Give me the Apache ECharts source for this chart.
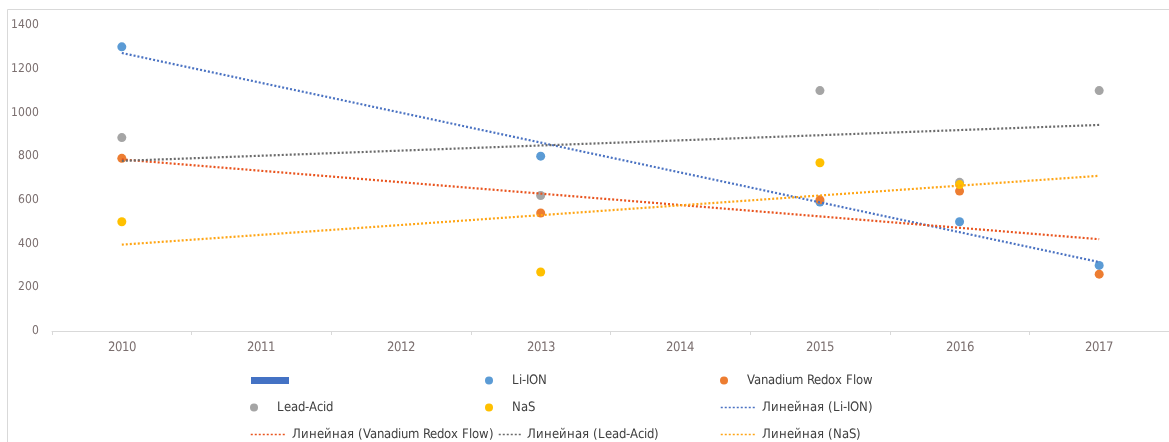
<!DOCTYPE html>
<html>
<head>
<meta charset="utf-8">
<title>Storage cost by technology</title>
<script src="https://cdn.jsdelivr.net/npm/echarts@6/dist/echarts.min.js"></script>
<style>
  @font-face {
    font-family: 'NarrowUI';
    src: local('Liberation Sans Narrow'), local('LiberationSansNarrow'),
         local('DejaVu Sans Condensed'), local('DejaVuSansCondensed'),
         local('Roboto Condensed'), local('RobotoCondensed-Regular');
  }
  html, body { margin: 0; padding: 0; background: #ffffff; }
  #chart { width: 1169px; height: 442px; }
</style>
</head>
<body>
<div id="chart"></div>
<script>
// Category axis: years
const years = ['2010', '2011', '2012', '2013', '2014', '2015', '2016', '2017'];

// Observed values per technology (null = no observation that year)
const liIon    = [1300, null, null, 800, null, 590, 500, 300];
const vanadium = [790,  null, null, 540, null, 600, 640, 260];
const leadAcid = [885,  null, null, 620, null, 1100, 680, 1100];
const nas      = [500,  null, null, 270, null, 770, 670, null];

// Value axis range
const yMin = 0;
const yMax = 1400;
const yStep = 200;

// Series names
const nameBlank = '\u200b';
const nameLi = 'Li-ION';
const nameV = 'Vanadium Redox Flow';
const nameLA = 'Lead-Acid';
const nameNaS = 'NaS';
const trendLi = 'Линейная (Li-ION)';
const trendV = 'Линейная (Vanadium Redox Flow)';
const trendLA = 'Линейная (Lead-Acid)';
const trendNaS = 'Линейная (NaS)';

// Least-squares linear trend over category positions 1..n
function linearTrend(values) {
  const pts = [];
  values.forEach((v, i) => { if (v !== null) pts.push([i + 1, v]); });
  const n = pts.length;
  const mx = pts.reduce((s, p) => s + p[0], 0) / n;
  const my = pts.reduce((s, p) => s + p[1], 0) / n;
  let sxy = 0, sxx = 0;
  pts.forEach(p => { sxy += (p[0] - mx) * (p[1] - my); sxx += (p[0] - mx) * (p[0] - mx); });
  const slope = sxy / sxx;
  const icpt = my - slope * mx;
  return values.map((_, i) => +(icpt + slope * (i + 1)).toFixed(2));
}

const FONT = "NarrowUI, 'Liberation Sans Narrow', 'DejaVu Sans Condensed', 'Roboto Condensed', 'Liberation Sans', sans-serif";

const colLi = '#5B9BD5', colV = '#ED7D31', colLA = '#A5A5A5', colNaS = '#FFC000';
const colTrLi = '#4A72C2', colTrV = '#E9541E', colTrLA = '#6A6A6A', colTrNaS = '#FFA514';

function scatter(name, data, color) {
  return {
    name: name, type: 'scatter', data: data, symbol: 'circle', symbolSize: 9,
    itemStyle: { color: color, opacity: 1 }, z: 2
  };
}
function trend(name, src, color) {
  return {
    name: name, type: 'line', data: linearTrend(src), symbol: 'none', showSymbol: false,
    lineStyle: { color: color, width: 2.2, type: [2, 2], cap: 'butt' },
    itemStyle: { color: color }, z: 3, silent: true
  };
}

// One legend block per cell of the three-column legend grid
function legendCell(name, left, top, icon, h, w) {
  const l = {
    data: [name], left: left, top: top, orient: 'horizontal',
    itemWidth: w || 36, itemHeight: h, itemGap: 0, padding: 0,
    textStyle: { fontFamily: FONT, fontSize: 13, color: '#404040' },
    selectedMode: false
  };
  if (icon) {
    l.icon = icon;
  } else {
    // trend cells: plain dotted line, no marker
    l.itemStyle = { color: 'rgba(0,0,0,0)', borderWidth: 0, opacity: 0 };
    l.lineStyle = { width: 1.5 };
  }
  return l;
}

function draw() {
  const chart = echarts.init(document.getElementById('chart'), null, { renderer: 'canvas' });
  chart.setOption({
    animation: false,
    backgroundColor: '#ffffff',
    graphic: [{
      type: 'rect', silent: true, z: -1,
      shape: { x: 7.5, y: 9.5, width: 1200, height: 500 },
      style: { fill: 'none', stroke: '#d9d9d9', lineWidth: 1 }
    }],
    grid: { left: 52, top: 25, width: 1119, height: 306, containLabel: false },
    xAxis: {
      type: 'category', data: years, boundaryGap: true,
      axisLine: { show: true, lineStyle: { color: '#d9d9d9', width: 1 } },
      axisTick: { show: true, length: 4, lineStyle: { color: '#d9d9d9' } },
      axisLabel: { color: '#7b6f6f', fontFamily: FONT, fontSize: 13, margin: 10 },
      splitLine: { show: false }
    },
    yAxis: {
      type: 'value', min: yMin, max: yMax, interval: yStep,
      axisLine: { show: false }, axisTick: { show: false },
      splitLine: { show: false },
      axisLabel: {
        color: '#7b6f6f', fontFamily: FONT, fontSize: 12, margin: 13,
        formatter: v => String(v)
      }
    },
    legend: [
      legendCell(nameBlank, 251, 374, 'rect', 7, 38),
      legendCell(nameLi, 485, 374, 'circle', 8),
      legendCell(nameV, 720, 374, 'circle', 8),
      legendCell(nameLA, 250, 401, 'circle', 8),
      legendCell(nameNaS, 485, 401, 'circle', 8),
      legendCell(trendLi, 720, 401, null, 8),
      legendCell(trendV, 250, 428, null, 8),
      legendCell(trendLA, 498, 428, null, 8, 23),
      legendCell(trendNaS, 720, 428, null, 8)
    ],
    series: [
      { name: nameBlank, type: 'bar', data: [], itemStyle: { color: '#4472C4' } },
      scatter(nameLi, liIon, colLi),
      scatter(nameV, vanadium, colV),
      scatter(nameLA, leadAcid, colLA),
      scatter(nameNaS, nas, colNaS),
      trend(trendLi, liIon, colTrLi),
      trend(trendV, vanadium, colTrV),
      trend(trendLA, leadAcid, colTrLA),
      trend(trendNaS, nas, colTrNaS)
    ]
  });
}

if (document.fonts && document.fonts.load) {
  document.fonts.load("13px NarrowUI").then(draw, draw);
} else {
  draw();
}
</script>
</body>
</html>
